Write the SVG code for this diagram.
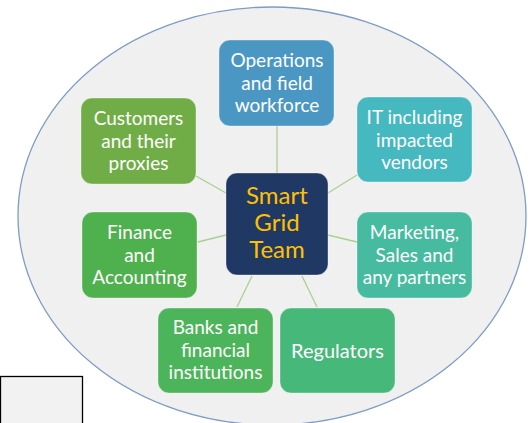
<svg xmlns="http://www.w3.org/2000/svg" width="532" height="423" viewBox="0 0 532 423">
<style>
.node rect{stroke:#ffffff;stroke-opacity:0.35;stroke-width:1}
.t{font-family:Lato,"Open Sans","Liberation Sans",sans-serif;font-size:19px;fill:#ffffff;text-anchor:middle}
.c{font-family:Lato,"Open Sans","Liberation Sans",sans-serif;font-size:24px;fill:#ffc000;text-anchor:middle}
#connectors line{stroke:#a9d18e;stroke-width:1.3}
</style>
<rect width="532" height="423" fill="#ffffff"/>
<rect x="0.5" y="376.5" width="82" height="60" fill="#f2f2f2" stroke="#000000" stroke-width="1.3"/>
<ellipse id="bg" cx="272" cy="216" rx="254" ry="209" fill="#f0f0f0" stroke="#7f9cc4" stroke-width="1.3"/>
<g id="connectors">
<line x1="277" y1="126" x2="277" y2="173"/>
<line x1="196" y1="176" x2="226" y2="193"/>
<line x1="357" y1="175" x2="328" y2="193"/>
<line x1="198" y1="242" x2="226" y2="235"/>
<line x1="328" y1="235" x2="357" y2="242"/>
<line x1="237" y1="307" x2="252" y2="276"/>
<line x1="302" y1="276" x2="317" y2="307"/>
</g>
<g id="operations" class="node">
<rect x="219" y="40" width="115" height="86" rx="11" fill="#4a97c4"/>
<text class="t" x="277" y="67">Operations</text>
<text class="t" x="277" y="89.5">and field</text>
<text class="t" x="277" y="112">workforce</text>
</g>
<g id="customers" class="node">
<rect x="81" y="98" width="115" height="86" rx="11" fill="#71ad47"/>
<text class="t" x="138.5" y="125">Customers</text>
<text class="t" x="138.5" y="147.5">and their</text>
<text class="t" x="138.5" y="170">proxies</text>
</g>
<g id="it" class="node">
<rect x="357" y="97" width="115" height="85" rx="11" fill="#46b8bf"/>
<text class="t" x="414.5" y="124">IT including</text>
<text class="t" x="414.5" y="146.5">impacted</text>
<text class="t" x="414.5" y="169">vendors</text>
</g>
<g id="smart-grid-team" class="node">
<rect x="226" y="173" width="102" height="102" rx="11" fill="#203864" stroke="#8fa6c8"/>
<text class="c" x="277" y="204">Smart</text>
<text class="c" x="277" y="231">Grid</text>
<text class="c" x="277" y="258">Team</text>
</g>
<g id="finance" class="node">
<rect x="82" y="212" width="115" height="86" rx="11" fill="#4fb04e"/>
<text class="t" x="139.5" y="239">Finance</text>
<text class="t" x="139.5" y="261.5">and</text>
<text class="t" x="139.5" y="284">Accounting</text>
</g>
<g id="marketing" class="node">
<rect x="357" y="212" width="115" height="86" rx="11" fill="#46bb9f"/>
<text class="t" x="414.5" y="239">Marketing,</text>
<text class="t" x="414.5" y="261.5">Sales and</text>
<text class="t" x="414.5" y="284">any partners</text>
</g>
<g id="banks" class="node">
<rect x="158" y="308" width="115" height="85" rx="11" fill="#4cb45a"/>
<text class="t" x="215.5" y="334">Banks and</text>
<text class="t" x="215.5" y="356.5">financial</text>
<text class="t" x="215.5" y="379">institutions</text>
</g>
<g id="regulators" class="node">
<rect x="280" y="308" width="115" height="85" rx="11" fill="#46b87a"/>
<text class="t" x="337.5" y="357.5" style="font-size:20px">Regulators</text>
</g>
</svg>
